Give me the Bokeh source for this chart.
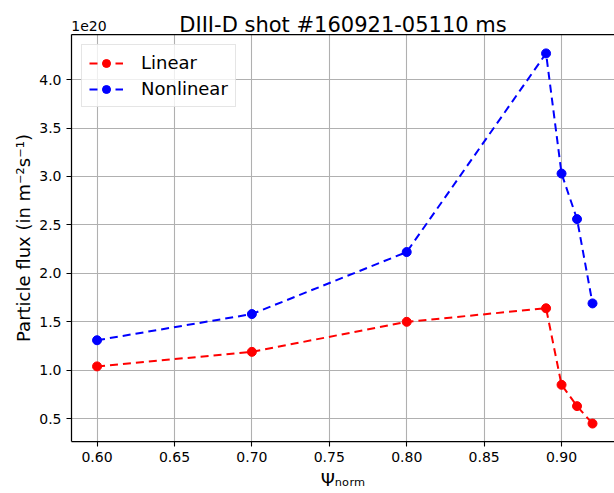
from bokeh.plotting import figure
from bokeh.models import (Legend, LegendItem, LinearAxis, FixedTicker,
                          PrintfTickFormatter, Range1d)
from bokeh.embed import file_html
from bokeh.resources import INLINE

# ---- data (flux in units of 1e20 m^-2 s^-1) ----
psi = [0.60, 0.70, 0.80, 0.89, 0.90, 0.91, 0.92]
linear = [1.04, 1.19, 1.50, 1.64, 0.85, 0.63, 0.45]
nonlinear = [1.31, 1.58, 2.22, 4.27, 3.03, 2.56, 1.69]
x_ticks = [0.60, 0.65, 0.70, 0.75, 0.80, 0.85, 0.90]
y_ticks = [0.5, 1.0, 1.5, 2.0, 2.5, 3.0, 3.5, 4.0]
offset_text = "1e20"
title_text = "DIII-D shot #160921-05110 ms"
xlabel = "\u03a8\u2099\u2092\u1d63\u2098"
ylabel = "Particle flux (in m\u207b\u00b2s\u207b\u00b9)"

FONT = "DejaVu Sans"
X0, X1 = 0.5835, 0.9342

p = figure(width=614, height=493, output_backend="svg", toolbar_location=None,
           x_range=Range1d(X0, X1), y_range=Range1d(0.265, 4.465),
           min_border_left=71, min_border_right=0, min_border_top=34,
           min_border_bottom=52, background_fill_color="white",
           border_fill_color="white")
p.outline_line_color = None

# grid
for g in (p.xgrid, p.ygrid):
    g.grid_line_color = "#b0b0b0"
    g.grid_line_width = 1.1
p.xgrid.ticker = FixedTicker(ticks=x_ticks)
p.ygrid.ticker = FixedTicker(ticks=y_ticks)

# axes
for ax in (p.xaxis[0], p.yaxis[0]):
    ax.axis_line_color = "black"
    ax.axis_line_width = 1.25
    ax.major_tick_line_color = "black"
    ax.major_tick_line_width = 1.1
    ax.major_tick_out = 5
    ax.major_tick_in = 0
    ax.minor_tick_out = 0
    ax.minor_tick_in = 0
    ax.major_label_text_font = FONT
    ax.major_label_text_font_size = "14px"
    ax.major_label_text_color = "black"
    ax.major_label_standoff = 5
    ax.axis_label_text_font = FONT
    ax.axis_label_text_font_style = "normal"
    ax.axis_label_text_font_size = "18px"
    ax.axis_label_text_color = "black"
p.xaxis[0].ticker = FixedTicker(ticks=x_ticks)
p.xaxis[0].formatter = PrintfTickFormatter(format="%.2f")
p.xaxis[0].axis_label = xlabel
p.xaxis[0].axis_label_standoff = 4
p.yaxis[0].ticker = FixedTicker(ticks=y_ticks)
p.yaxis[0].formatter = PrintfTickFormatter(format="%.1f")
p.yaxis[0].axis_label = ylabel
p.yaxis[0].axis_label_standoff = 2

# top spine carrying the offset text ("1e20") and the title
top = LinearAxis(ticker=FixedTicker(ticks=[X0 + 0.0113]),
                 formatter=PrintfTickFormatter(format=offset_text),
                 major_label_text_font=FONT, major_label_text_font_size="14px",
                 major_label_text_color="black", major_label_standoff=4,
                 major_tick_out=0, major_tick_in=0, minor_tick_out=0, minor_tick_in=0,
                 axis_line_color="black", axis_line_width=1.25,
                 axis_label=title_text, axis_label_standoff=-19,
                 axis_label_text_font=FONT, axis_label_text_font_style="normal",
                 axis_label_text_font_size="21px", axis_label_text_color="black")
p.add_layout(top, "above")

# data
l1 = p.line(psi, linear, line_color="#ff0000", line_width=2, line_dash="8 5")
s1 = p.scatter(psi, linear, size=9, fill_color="#ff0000", line_color="#ff0000")
l2 = p.line(psi, nonlinear, line_color="#0000ff", line_width=2, line_dash="8 5")
s2 = p.scatter(psi, nonlinear, size=9, fill_color="#0000ff", line_color="#0000ff")

legend = Legend(items=[LegendItem(label="Linear", renderers=[l1, s1]),
                       LegendItem(label="Nonlinear", renderers=[l2, s2])],
                location="top_left", margin=10, padding=7, spacing=5,
                glyph_width=34, glyph_height=20, label_height=20, label_standoff=18,
                label_text_font=FONT, label_text_font_size="18px",
                label_text_color="black",
                border_line_color="#cccccc", border_line_width=1.1,
                background_fill_color="white", background_fill_alpha=0.8)
p.add_layout(legend, "center")

open("out.html", "w").write(file_html(p, INLINE))
